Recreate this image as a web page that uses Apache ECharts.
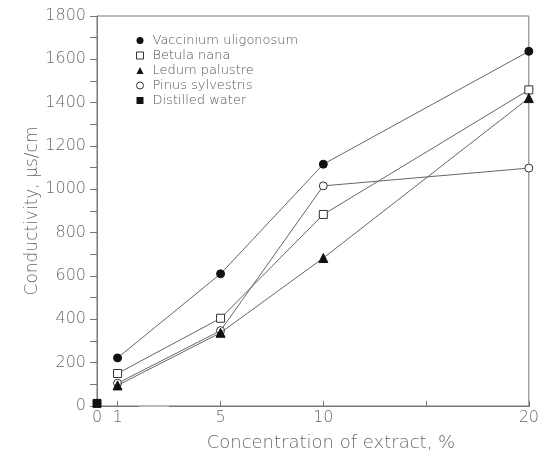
<!DOCTYPE html>
<html>
<head>
<meta charset="utf-8">
<script src="https://cdn.jsdelivr.net/npm/echarts@6/dist/echarts.min.js"></script>
<style>
  html, body { margin: 0; padding: 0; background: #fff; }
  #chart { width: 542px; height: 457px; }
</style>
</head>
<body>
<div id="chart"></div>
<script>
// concentration of extract, %
var concentrations = [1, 5, 10, 20];
// conductivity, µs/cm
var vaccinium = [222, 610, 1116, 1637];
var betula = [150, 405, 884, 1459];
var ledum = [95, 338, 683, 1421];
var pinus = [105, 348, 1016, 1098];
var waterX = [0];
var water = [12];

var xTicks = [1, 5, 10, 15, 20];
var xLabels = [0, 1, 5, 10, 20];
var yLabelStep = 200;

function pairs(xs, ys) {
    return xs.map(function (x, i) { return [x, ys[i]]; });
}

var textColor = '#6a6a6a';
var lineColor = '#777';
var font = 'DejaVu Sans';
var weight = 200;

var myChart = echarts.init(document.getElementById('chart'));

function lineSeries(name, data, symbol, size, filled) {
    return {
        name: name,
        type: 'line',
        data: data,
        symbol: symbol,
        symbolSize: size,
        lineStyle: { color: '#666', width: 1 },
        itemStyle: filled
            ? { color: '#111', borderColor: '#111', borderWidth: 1 }
            : { color: '#fff', borderColor: '#333', borderWidth: 1 },
        emphasis: { disabled: true },
        z: filled ? 3 : 2
    };
}

var option = {
    animation: false,
    backgroundColor: '#fff',
    grid: {
        left: 97,
        right: 13,
        top: 16,
        bottom: 46,
        show: true,
        borderColor: lineColor,
        borderWidth: 1
    },
    legend: {
        orient: 'vertical',
        left: 136,
        top: 34,
        padding: 0,
        itemGap: 2,
        itemWidth: 7,
        itemHeight: 7,
        textStyle: { color: '#555', fontFamily: font, fontWeight: weight, fontSize: 13, padding: [0, 0, 0, 4] },
        data: [
            { name: 'Vaccinium uligonosum', icon: 'circle', itemStyle: { color: '#111', borderWidth: 0 } },
            { name: 'Betula nana', icon: 'rect', itemStyle: { color: '#fff', borderColor: '#333', borderWidth: 1 } },
            { name: 'Ledum palustre', icon: 'triangle', itemStyle: { color: '#111', borderWidth: 0 } },
            { name: 'Pinus sylvestris', icon: 'circle', itemStyle: { color: '#fff', borderColor: '#333', borderWidth: 1 } },
            { name: 'Distilled water', icon: 'rect', itemStyle: { color: '#111', borderWidth: 0 } }
        ]
    },
    xAxis: {
        type: 'value',
        min: 0,
        max: 20,
        breaks: [{ start: 2, end: 2.5, gap: '7.2%' }],
        breakArea: { show: false },
        name: 'Concentration of extract, %',
        nameLocation: 'middle',
        nameGap: 28,
        nameTextStyle: { color: textColor, fontFamily: font, fontWeight: weight, fontSize: 18, padding: [0, 0, 0, 36] },
        axisLine: { show: true, lineStyle: { color: lineColor, width: 1 } },
        axisTick: { show: true, inside: true, length: 5, customValues: xTicks, lineStyle: { color: lineColor } },
        axisLabel: { customValues: xLabels, color: textColor, fontFamily: font, fontWeight: weight, fontSize: 16, margin: 4 },
        splitLine: { show: false }
    },
    yAxis: {
        type: 'value',
        min: 0,
        max: 1800,
        interval: 100,
        name: 'Conductivity, µs/cm',
        nameLocation: 'middle',
        nameMoveOverlap: false,
        nameGap: 56,
        nameTextStyle: { color: textColor, fontFamily: font, fontWeight: weight, fontSize: 17 },
        axisLine: { show: true, lineStyle: { color: lineColor, width: 1 } },
        axisTick: { show: true, length: 7, lineStyle: { color: lineColor } },
        axisLabel: {
            color: textColor, fontFamily: font, fontWeight: weight, fontSize: 16, margin: 11,
            formatter: function (v) { return v % yLabelStep === 0 ? String(v) : ''; }
        },
        splitLine: { show: false }
    },
    series: [
        lineSeries('Vaccinium uligonosum', pairs(concentrations, vaccinium), 'circle', 8, true),
        lineSeries('Betula nana', pairs(concentrations, betula), 'rect', 8, false),
        lineSeries('Ledum palustre', pairs(concentrations, ledum), 'triangle', 9, true),
        lineSeries('Pinus sylvestris', pairs(concentrations, pinus), 'circle', 8, false),
        lineSeries('Distilled water', pairs(waterX, water), 'rect', 8, true)
    ]
};

myChart.setOption(option);
</script>
</body>
</html>
